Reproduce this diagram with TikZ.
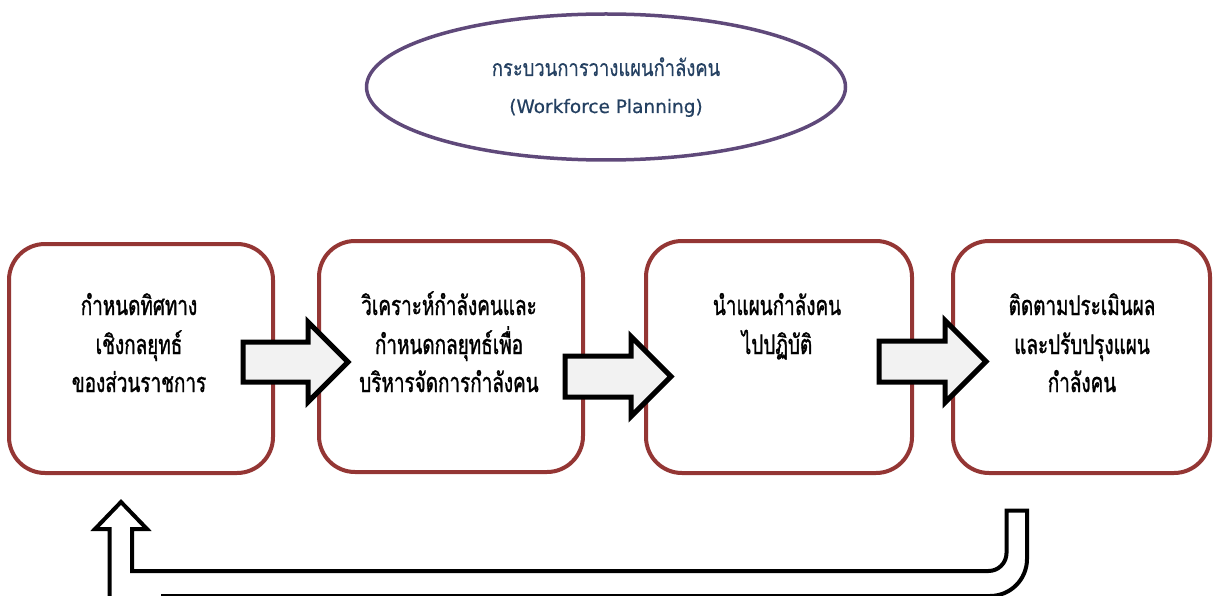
\documentclass[tikz,border=0pt]{standalone}
\usepackage{fontspec}
\usetikzlibrary{shapes.geometric}
\newfontfamily\thaifont[Script=Thai,FakeStretch=0.7,FakeBold=1.2]{Loma}
\newfontfamily\thaititle[Script=Thai,FakeStretch=0.8,FakeBold=0.6]{Loma}
\newfontfamily\latinfont[FakeBold=0.6]{DejaVu Sans}
\definecolor{boxred}{HTML}{943634}
\definecolor{elpurple}{HTML}{5F497A}
\definecolor{titleblue}{HTML}{244061}
\definecolor{arrowfill}{HTML}{F2F2F2}
\tikzset{
  stagebox/.style={draw=boxred, line width=4pt, rounded corners=36pt, fill=white, inner sep=0pt},
  stagetext/.style={anchor=base, font=\thaifont\fontsize{27}{27}\selectfont, text=black, inner sep=0pt},
  titletext/.style={anchor=base, text=titleblue, inner sep=0pt},
  blockarrow/.style={draw=black, fill=arrowfill, line width=5pt, miter limit=10},
  uturn/.style={draw=black, line width=4pt, rounded corners=0pt}
}
\begin{document}
\begin{tikzpicture}[x=1pt,y=-1pt]
\useasboundingbox (0,0) rectangle (1214,596);
\clip (0,0) rectangle (1214,596);

% title ellipse
\node (title) [draw=elpurple, line width=3.5pt, ellipse, minimum width=479pt, minimum height=146pt, inner sep=0pt] at (606,87) {};
\node (titleA) [titletext, font=\thaititle\fontsize{23}{23}\selectfont] at (606,76) {กระบวนการวางแผนกำลังคน};
\node (titleB) [titletext, font=\latinfont\fontsize{18.5}{18.5}\selectfont] at (606,113) {(Workforce Planning)};

% stage boxes
\node (b1) [stagebox, minimum width=264pt, minimum height=229pt] at (141,358.5) {};
\node (b2) [stagebox, minimum width=264pt, minimum height=231pt] at (451,356.5) {};
\node (b3) [stagebox, minimum width=266pt, minimum height=232pt] at (779,357) {};
\node (b4) [stagebox, minimum width=257pt, minimum height=232pt] at (1081.5,357) {};

% texts
\node (b1l1) [stagetext] at (139,315) {กำหนดทิศทาง};
\node (b1l2) [stagetext] at (139,354) {เชิงกลยุทธ์};
\node (b1l3) [stagetext] at (139,392) {ของส่วนราชการ};

\node (b2l1) [stagetext] at (449,315) {วิเคราะห์กำลังคนและ};
\node (b2l2) [stagetext] at (449,354) {กำหนดกลยุทธ์เพื่อ};
\node (b2l3) [stagetext] at (449,392) {บริหารจัดการกำลังคน};

\node (b3l1) [stagetext] at (777,315) {นำแผนกำลังคน};
\node (b3l2) [stagetext] at (777,354) {ไปปฏิบัติ};

\node (b4l1) [stagetext] at (1082,315) {ติดตามประเมินผล};
\node (b4l2) [stagetext] at (1082,354) {และปรับปรุงแผน};
\node (b4l3) [stagetext] at (1082,392) {กำลังคน};

% block arrows between boxes
\draw[blockarrow] (243,342) -- (308,342) -- (308,322) -- (348,362) -- (308,402) -- (308,382) -- (243,382) -- cycle;
\draw[blockarrow] (565,356) -- (631,356) -- (631,336.5) -- (671,376.5) -- (631,416.5) -- (631,397) -- (565,397) -- cycle;
\draw[blockarrow] (879,341) -- (945,341) -- (945,320.5) -- (986,361.5) -- (945,402.5) -- (945,382) -- (879,382) -- cycle;

% feedback U-turn arrow
\draw[uturn, line join=miter]
  (161,596) -- (990,596)
  arc[start angle=90, end angle=0, radius=37]
  -- (1027,510.5) -- (1006.5,510.5) -- (1006.5,553)
  arc[start angle=0, end angle=90, radius=18]
  -- (132,571) -- (132,529) -- (147,529) -- (121,502) -- (95,529) -- (109.5,529) -- (109.5,600);
\end{tikzpicture}
\end{document}
